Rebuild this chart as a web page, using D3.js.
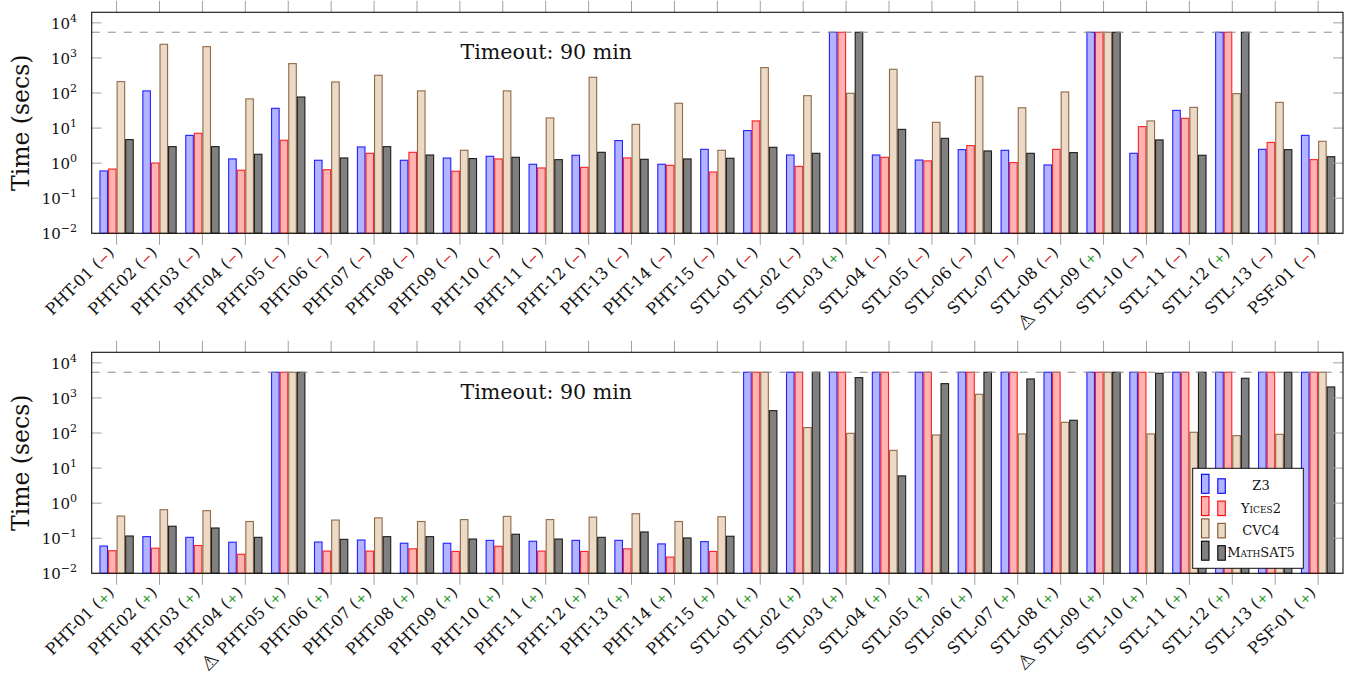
<!DOCTYPE html>
<html>
<head>
<meta charset="utf-8">
<script src="https://cdn.jsdelivr.net/npm/d3@7"></script>
<style>
  html, body { margin: 0; padding: 0; background: #fff; }
  svg { display: block; }
  text { font-family: "DejaVu Serif", "Liberation Serif", serif; fill: #111; }
</style>
</head>
<body>
<svg id="chart" width="1355" height="675"></svg>
<script>
// ---------------- data ----------------
const categories = ["PHT-01","PHT-02","PHT-03","PHT-04","PHT-05","PHT-06","PHT-07","PHT-08","PHT-09","PHT-10",
  "PHT-11","PHT-12","PHT-13","PHT-14","PHT-15","STL-01","STL-02","STL-03","STL-04","STL-05","STL-06","STL-07",
  "STL-08","STL-09","STL-10","STL-11","STL-12","STL-13","PSF-01"];
const seriesNames = ["Z3", "Yices2", "CVC4", "MathSAT5"];
const timeoutSecs = 5400;
const timeoutLabel = "Timeout: 90 min";
const yLabel = "Time (secs)";
const yTickExponents = [-2, -1, 0, 1, 2, 3, 4];

// top panel
const topZ3       = [0.6, 115, 6.2, 1.32, 36.7, 1.21, 2.9, 1.21, 1.4, 1.57, 0.93, 1.68, 4.4, 0.93, 2.48, 8.5, 1.71, 5400, 1.71, 1.23, 2.43, 2.33, 0.89, 5400, 1.91, 32, 5400, 2.48, 6.2];
const topYices2   = [0.68, 1.01, 7.1, 0.63, 4.5, 0.65, 1.91, 2.04, 0.59, 1.32, 0.73, 0.76, 1.41, 0.87, 0.56, 16, 0.81, 5400, 1.47, 1.16, 3.16, 1.04, 2.48, 5400, 11, 19, 5400, 3.9, 1.26];
const topCVC4     = [211, 2450, 2100, 68, 689, 207, 320, 115, 2.33, 115, 19.5, 281, 12.8, 51, 2.33, 530, 84, 98, 475, 14.6, 300, 38, 107, 5400, 16, 39, 96, 54, 4.2];
const topMathSAT5 = [4.7, 2.96, 2.96, 1.79, 77, 1.41, 2.96, 1.71, 1.35, 1.47, 1.26, 2.04, 1.29, 1.32, 1.38, 2.83, 1.91, 5400, 9.2, 5.1, 2.23, 1.91, 2.0, 5400, 4.6, 1.68, 5400, 2.43, 1.53];
const topMarks    = ["−","−","−","−","−","−","−","−","−","−","−","−","−","−","−","−","−","+","−","−","−","−","−","+","−","−","+","−","−"];
const topWarn     = ["STL-09"];

// bottom panel
const botZ3       = [0.060, 0.111, 0.106, 0.077, 5400, 0.078, 0.089, 0.072, 0.072, 0.087, 0.082, 0.087, 0.087, 0.069, 0.080, 5400, 5400, 5400, 5400, 5400, 5400, 5400, 5400, 5400, 5400, 5400, 5400, 5400, 5400];
const botYices2   = [0.044, 0.052, 0.062, 0.035, 5400, 0.043, 0.043, 0.050, 0.042, 0.059, 0.043, 0.042, 0.050, 0.029, 0.042, 5400, 5400, 5400, 5400, 5400, 5400, 5400, 5400, 5400, 5400, 5400, 5400, 5400, 5400];
const botCVC4     = [0.43, 0.65, 0.61, 0.30, 5400, 0.33, 0.38, 0.30, 0.34, 0.42, 0.34, 0.40, 0.50, 0.30, 0.41, 5400, 143, 98, 32, 88, 1270, 94, 202, 5400, 94, 105, 84, 92, 5400];
const botMathSAT5 = [0.116, 0.22, 0.196, 0.106, 5400, 0.093, 0.111, 0.111, 0.095, 0.13, 0.095, 0.106, 0.151, 0.102, 0.114, 435, 5400, 3800, 6.0, 2560, 5400, 3480, 231, 5400, 5050, 5400, 3640, 5400, 2060];
const botMarks    = ["+","+","+","+","+","+","+","+","+","+","+","+","+","+","+","+","+","+","+","+","+","+","+","+","+","+","+","+","+"];
const botWarn     = ["PHT-05", "STL-09"];

// ---------------- styles ----------------
const fills   = ["#b3b3ff", "#ffb3b3", "#ecd9c6", "#808080"];
const strokes = ["#0000ff", "#ff0000", "#7a5530", "#000000"];
const markColor = { "−": "#e01010", "+": "#1f9a1f" };

const svg = d3.select("#chart");
const plotLeft = 91.7, plotRight = 1343;

const x = d3.scalePoint().domain(categories).range([plotLeft, plotRight]).padding(0.58);
const step = x.step();
const bw = step * 0.2;

function drawPanel(top, bottom, seriesData, marks, warns, showLegend) {
  const g = svg.append("g");
  const y = d3.scaleLog().domain([1e-2, 2e4]).range([bottom, top]);

  // bars
  seriesData.forEach((vals, s) => {
    g.append("g").selectAll("rect").data(vals).join("rect")
      .attr("x", (d, i) => x(categories[i]) + (s - 2) * bw + 0.5)
      .attr("width", bw - 1)
      .attr("y", d => y(d))
      .attr("height", d => y(1e-2) - y(d))
      .attr("fill", fills[s])
      .attr("stroke", strokes[s])
      .attr("stroke-opacity", 0.85)
      .attr("stroke-width", 1.1);
  });

  // timeout line
  g.append("line")
    .attr("x1", plotLeft).attr("x2", plotRight)
    .attr("y1", y(timeoutSecs)).attr("y2", y(timeoutSecs))
    .attr("stroke", "#8c8c8c").attr("stroke-width", 1)
    .attr("stroke-dasharray", "8,8");

  g.append("text")
    .attr("x", 460.5).attr("y", y(timeoutSecs) + 27)
    .attr("font-size", 20.6)
    .text(timeoutLabel);

  // y axis ticks (inside, both sides)
  const yTicks = yTickExponents.map(e => Math.pow(10, e));
  g.append("g").selectAll("line.yl").data(yTicks).join("line")
    .attr("x1", plotLeft).attr("x2", plotLeft + 10)
    .attr("y1", d => y(d)).attr("y2", d => y(d))
    .attr("stroke", "#a0a0a0").attr("stroke-width", 1);
  g.append("g").selectAll("line.yr").data(yTicks).join("line")
    .attr("x1", plotRight - 10).attr("x2", plotRight)
    .attr("y1", d => y(d)).attr("y2", d => y(d))
    .attr("stroke", "#a0a0a0").attr("stroke-width", 1);

  const yl = g.append("g").selectAll("text").data(yTickExponents).join("text")
    .attr("x", 77).attr("y", e => y(Math.pow(10, e)) + 6)
    .attr("text-anchor", "end")
    .attr("font-size", 15);
  yl.append("tspan").text("10");
  yl.append("tspan").attr("dy", -7).attr("font-size", 11)
    .text(e => e < 0 ? "−" + Math.abs(e) : String(e));

  // x ticks (outside, top and bottom)
  g.append("g").selectAll("line.xt").data(categories).join("line")
    .attr("x1", d => x(d)).attr("x2", d => x(d))
    .attr("y1", top - 11.5).attr("y2", top)
    .attr("stroke", "#a0a0a0").attr("stroke-width", 1);
  g.append("g").selectAll("line.xb").data(categories).join("line")
    .attr("x1", d => x(d)).attr("x2", d => x(d))
    .attr("y1", bottom).attr("y2", bottom + 11.5)
    .attr("stroke", "#a0a0a0").attr("stroke-width", 1);

  // frame
  g.append("rect")
    .attr("x", plotLeft).attr("y", top)
    .attr("width", plotRight - plotLeft).attr("height", bottom - top)
    .attr("fill", "none").attr("stroke", "#111").attr("stroke-width", 1.1);

  // y label
  g.append("text")
    .attr("transform", `translate(29,${(top + bottom) / 2}) rotate(-90)`)
    .attr("text-anchor", "middle")
    .attr("font-size", 23.5)
    .text(yLabel);

  // x tick labels
  const xl = g.append("g").selectAll("text").data(categories).join("text")
    .attr("transform", d => `translate(${x(d) - 1.5},${bottom + 20}) rotate(-45)`)
    .attr("text-anchor", "end")
    .attr("font-size", 16.3);
  xl.each(function(d, i) {
    const t = d3.select(this);
    if (warns.includes(d)) {
      t.append("tspan").attr("font-family", "DejaVu Sans").attr("font-size", 19).text("⚠");
      t.append("tspan").text(" ");
    }
    t.append("tspan").text(d + " (");
    t.append("tspan").attr("fill", markColor[marks[i]]).attr("font-family", "DejaVu Sans")
      .attr("font-size", 13).text(marks[i]);
    t.append("tspan").text(")");
  });

  if (showLegend) {
    const lx = 1192.7, ly = 468.3, lw = 110.6, lh = 100;
    const lg = g.append("g");
    lg.append("rect").attr("x", lx).attr("y", ly).attr("width", lw).attr("height", lh)
      .attr("fill", "#fff").attr("stroke", "#111").attr("stroke-width", 1);
    seriesNames.forEach((name, s) => {
      const base = 493.3 + s * 22.3;
      lg.append("rect").attr("x", 1201.5).attr("y", base - 19).attr("width", 7.5).attr("height", 19)
        .attr("fill", fills[s]).attr("stroke", strokes[s]).attr("stroke-width", 1.1);
      lg.append("rect").attr("x", 1217.8).attr("y", base - 14.5).attr("width", 7.5).attr("height", 14.5)
        .attr("fill", fills[s]).attr("stroke", strokes[s]).attr("stroke-width", 1.1);
      lg.append("text").attr("x", 1261).attr("y", base - 3)
        .attr("text-anchor", "middle").attr("font-size", 13)
        .style("font-variant", "small-caps")
        .text(name);
    });
  }
}

drawPanel(12.3, 233.3, [topZ3, topYices2, topCVC4, topMathSAT5], topMarks, topWarn, false);
drawPanel(352.3, 573.3, [botZ3, botYices2, botCVC4, botMathSAT5], botMarks, botWarn, true);
</script>
</body>
</html>
